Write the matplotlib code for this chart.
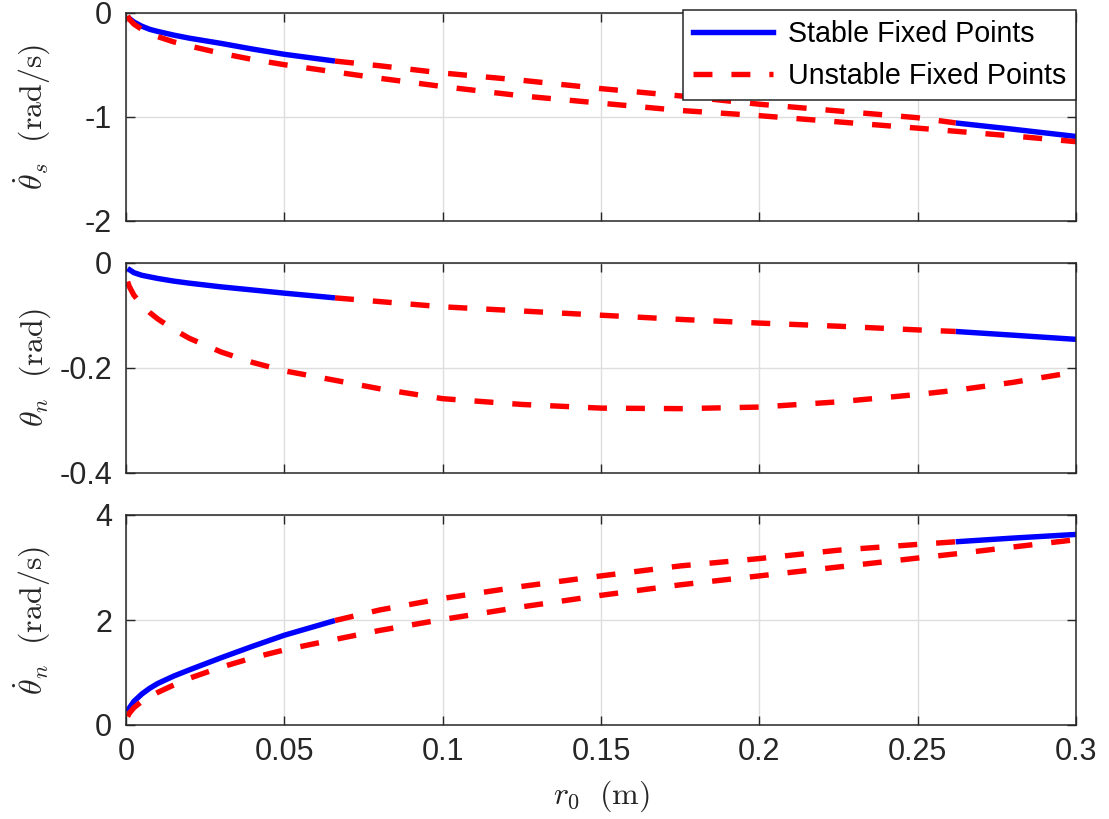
import matplotlib
matplotlib.use("Agg")
import matplotlib.pyplot as plt
from matplotlib.lines import Line2D

# ---------------- data ----------------
r0 = [0.0005, 0.001, 0.0025, 0.005, 0.0075, 0.01, 0.015, 0.02, 0.03, 0.04, 0.05, 0.066, 0.08,
      0.1, 0.125, 0.15, 0.175, 0.2, 0.225, 0.25, 0.262, 0.28, 0.3]

# branch A (stable for r0 <= 0.066 and r0 >= 0.262, unstable in between)
thetas_dot_A = [-0.04, -0.055, -0.09, -0.13, -0.16, -0.18, -0.215, -0.245, -0.295, -0.35, -0.40,
                -0.465, -0.51, -0.58, -0.65, -0.73, -0.80, -0.88, -0.945, -1.01, -1.06, -1.12, -1.19]
theta_n_A = [-0.011, -0.013, -0.019, -0.024, -0.027, -0.030, -0.035, -0.039, -0.046, -0.052, -0.058,
             -0.067, -0.074, -0.084, -0.092, -0.100, -0.108, -0.115, -0.121, -0.128, -0.131,
             -0.138, -0.146]
thetan_dot_A = [0.25, 0.32, 0.45, 0.59, 0.70, 0.79, 0.93, 1.05, 1.28, 1.50, 1.71, 1.99, 2.19,
                2.41, 2.64, 2.84, 3.03, 3.17, 3.33, 3.44, 3.49, 3.56, 3.63]

# branch B (unstable everywhere)
thetas_dot_B = [-0.03, -0.06, -0.11, -0.16, -0.20, -0.23, -0.28, -0.32, -0.39, -0.45, -0.50,
                -0.57, -0.63, -0.71, -0.80, -0.87, -0.94, -0.99, -1.05, -1.11, -1.14, -1.185, -1.24]
theta_n_B = [-0.036, -0.045, -0.062, -0.080, -0.095, -0.107, -0.127, -0.144, -0.170, -0.190,
             -0.206, -0.224, -0.240, -0.259, -0.270, -0.277, -0.278, -0.275, -0.265, -0.251,
             -0.243, -0.228, -0.208]
thetan_dot_B = [0.16, 0.22, 0.33, 0.45, 0.54, 0.62, 0.76, 0.89, 1.10, 1.28, 1.43, 1.63, 1.80,
                2.01, 2.25, 2.47, 2.67, 2.84, 3.01, 3.18, 3.26, 3.39, 3.53]

stable_end = 0.066      # branch A loses stability
stable_start = 0.262    # branch A regains stability

ylabels = [r'$\dot{\theta}_s\ \ (\mathrm{rad/s})$',
           r'$\theta_n\ \ (\mathrm{rad})$',
           r'$\dot{\theta}_n\ \ (\mathrm{rad/s})$']
ylims = [(-2, 0), (-0.4, 0), (0, 4)]
yticks = [[-2, -1, 0], [-0.4, -0.2, 0], [0, 2, 4]]
yticklabels = [['-2', '-1', '0'], ['-0.4', '-0.2', '0'], ['0', '2', '4']]
xticks = [0, 0.05, 0.1, 0.15, 0.2, 0.25, 0.3]
xticklabels = ['0', '0.05', '0.1', '0.15', '0.2', '0.25', '0.3']
legend_labels = ['Stable Fixed Points', 'Unstable Fixed Points']

# ---------------- style ----------------
plt.rcParams['font.family'] = ['Liberation Sans', 'DejaVu Sans']
plt.rcParams['mathtext.fontset'] = 'cm'
plt.rcParams['axes.unicode_minus'] = False

DARK = '#262626'
BLUE = '#0000ff'
RED = '#ff0000'
LW = 3.9
DASH = (0, (3.5, 3.5))

fig = plt.figure(figsize=(11.09, 8.19), dpi=100)
left, right = 126 / 1109, 1076 / 1109
tops = [12.7, 262.7, 515.0]
bottoms = [220.7, 472.7, 725.0]

i1 = r0.index(stable_end)
i2 = r0.index(stable_start)

series = [(thetas_dot_A, thetas_dot_B), (theta_n_A, theta_n_B), (thetan_dot_A, thetan_dot_B)]

axes = []
for k in range(3):
    t, b = tops[k], bottoms[k]
    ax = fig.add_axes([left, 1 - b / 819, right - left, (b - t) / 819])
    axes.append(ax)
    A, B = series[k]
    # stable parts of branch A
    ax.plot(r0[:i1 + 1], A[:i1 + 1], color=BLUE, lw=LW, solid_capstyle='butt')
    ax.plot(r0[i2:], A[i2:], color=BLUE, lw=LW, solid_capstyle='butt')
    # unstable parts
    ax.plot(r0[i1:i2 + 1], A[i1:i2 + 1], color=RED, lw=LW, linestyle=DASH)
    ax.plot(r0, B, color=RED, lw=LW, linestyle=DASH)

    ax.set_xlim(0, 0.3)
    ax.set_ylim(*ylims[k])
    ax.set_yticks(yticks[k])
    ax.set_yticklabels(yticklabels[k])
    ax.set_xticks(xticks)
    if k == 2:
        ax.set_xticklabels(xticklabels)
        ax.set_xlabel(r'$r_0\ \ (\mathrm{m})$', fontsize=23, color=DARK, labelpad=8)
    else:
        ax.set_xticklabels([])
    ax.set_ylabel(ylabels[k], fontsize=23, color=DARK)
    ax.yaxis.set_label_coords(-0.077, 0.5)
    ax.grid(True, color='#dedede', lw=1.0)
    ax.set_axisbelow(True)
    for s in ax.spines.values():
        s.set_color(DARK)
        s.set_linewidth(1.1)
    ax.tick_params(axis='both', direction='in', length=6.5, width=1.0, color=DARK,
                   labelcolor=DARK, labelsize=22, top=True, right=True)
    ax.tick_params(axis='y', pad=10)
    ax.tick_params(axis='x', pad=9)

handles = [Line2D([], [], color=BLUE, lw=LW),
           Line2D([], [], color=RED, lw=LW, linestyle=DASH)]
leg = axes[0].legend(handles, legend_labels, loc='upper right', bbox_to_anchor=(1.0, 1.013),
                     borderaxespad=0, fontsize=20.6, frameon=True, fancybox=False,
                     handlelength=2.8, handletextpad=0.5, labelspacing=0.5,
                     borderpad=0.35)
leg.get_frame().set_edgecolor(DARK)
leg.get_frame().set_linewidth(1.1)
leg.get_frame().set_alpha(1.0)

fig.savefig('out.png', dpi=100, facecolor='white')
